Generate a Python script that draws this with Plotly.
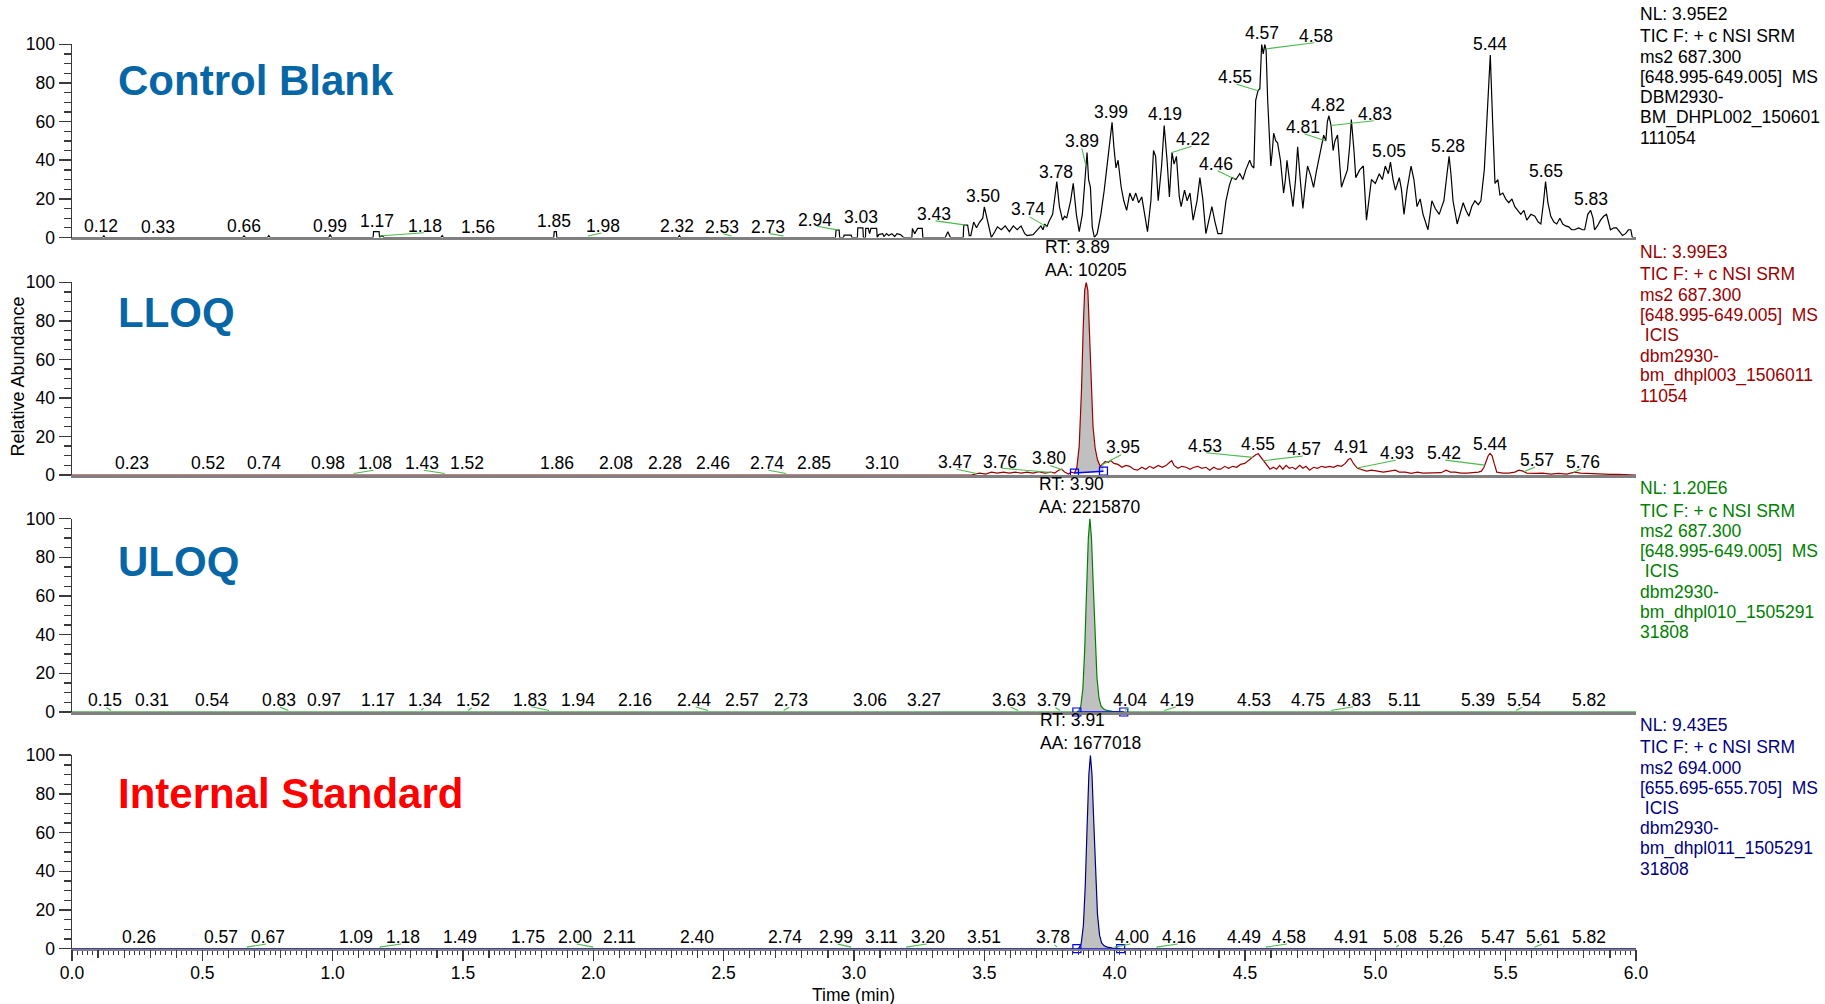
import numpy as np
import plotly.graph_objects as go

# ---------------------------------------------------------------- data
# chromatogram traces: (time [min], relative abundance [%])
BLANK_TRACE = [
    (0.000, 0), (0.118, 0), (0.122, 1), (0.126, 0), (0.655, 0), (0.660, 0.8), (0.665, 0),
    (0.750, 0), (0.755, 1), (0.760, 0), (0.985, 0), (0.990, 1.5), (0.996, 0), (1.155, 0),
    (1.157, 3), (1.178, 3), (1.180, 0), (1.190, 1), (1.196, 0), (1.415, 0), (1.420, 1),
    (1.425, 0), (1.848, 0), (1.850, 3), (1.858, 3), (1.860, 0), (2.325, 0), (2.330, 1),
    (2.335, 0), (2.929, 0), (2.931, 3.8), (2.943, 3.8), (2.945, 0), (2.960, 0), (2.962, 1.2),
    (2.989, 1.2), (2.992, 0), (3.013, 0), (3.0145, 5), (3.034, 5), (3.036, 0), (3.044, 0),
    (3.045, 4.7), (3.055, 4.7), (3.060, 2), (3.065, 4.7), (3.087, 4.7), (3.089, 0), (3.095, 1.5),
    (3.110, 2), (3.115, 0.5), (3.125, 2), (3.133, 1), (3.145, 2), (3.156, 0.5), (3.165, 2),
    (3.178, 1.5), (3.190, 0), (3.222, 0), (3.224, 4.7), (3.233, 2), (3.244, 4.7), (3.262, 4.7),
    (3.264, 0), (3.350, 0), (3.360, 3), (3.370, 0), (3.419, 0), (3.421, 6.4), (3.436, 6.4),
    (3.442, 1), (3.448, 1), (3.459, 8), (3.470, 5), (3.482, 8), (3.494, 10), (3.500, 15.9),
    (3.509, 10), (3.518, 6), (3.527, 0), (3.540, 3), (3.550, 5.5), (3.565, 4), (3.580, 6),
    (3.596, 3), (3.611, 6), (3.626, 4), (3.641, 6), (3.655, 2), (3.664, 1), (3.687, 1.5),
    (3.702, 4), (3.717, 6), (3.725, 4), (3.732, 7), (3.740, 5.5), (3.747, 8), (3.762, 12),
    (3.778, 29), (3.788, 16), (3.800, 9), (3.808, 11), (3.816, 10), (3.831, 19), (3.841, 28),
    (3.853, 12), (3.864, 3), (3.876, 12), (3.885, 28), (3.894, 44), (3.900, 30), (3.907, 26),
    (3.914, 5.5), (3.922, 0), (3.933, 2), (3.947, 12), (3.960, 24.5), (3.972, 40), (3.982, 50),
    (3.990, 59.6), (3.997, 47), (4.005, 36), (4.013, 40), (4.025, 26), (4.035, 19), (4.046, 14),
    (4.058, 23), (4.070, 19), (4.081, 23), (4.092, 18), (4.104, 21), (4.116, 11), (4.126, 3),
    (4.139, 19), (4.149, 45), (4.157, 42), (4.167, 19), (4.180, 37), (4.190, 58), (4.201, 40),
    (4.210, 21), (4.220, 44), (4.228, 38), (4.237, 42), (4.248, 21), (4.255, 16), (4.268, 24.5),
    (4.278, 19), (4.289, 23), (4.301, 9), (4.316, 19), (4.327, 31), (4.338, 20), (4.350, 2),
    (4.362, 10), (4.373, 16), (4.385, 8), (4.396, 2), (4.411, 2), (4.427, 19), (4.440, 27),
    (4.450, 31), (4.465, 30), (4.480, 33), (4.492, 30), (4.503, 35), (4.518, 40), (4.526, 37),
    (4.534, 36), (4.541, 71), (4.550, 76), (4.557, 77), (4.564, 100), (4.570, 95), (4.576, 100),
    (4.581, 97), (4.587, 71), (4.593, 50), (4.599, 37), (4.605, 45), (4.610, 54), (4.618, 50),
    (4.625, 49), (4.636, 40), (4.648, 23), (4.655, 30), (4.661, 40), (4.672, 28), (4.684, 16),
    (4.694, 30), (4.702, 47), (4.712, 30), (4.722, 15), (4.732, 28), (4.740, 37), (4.752, 32),
    (4.763, 26), (4.775, 35), (4.786, 42), (4.795, 48), (4.802, 53), (4.810, 50), (4.816, 60),
    (4.822, 63), (4.830, 58), (4.838, 45), (4.845, 50), (4.855, 53), (4.862, 40), (4.870, 26),
    (4.880, 30), (4.893, 35), (4.902, 48), (4.908, 61), (4.918, 45), (4.925, 31), (4.940, 35),
    (4.954, 37), (4.966, 9), (4.975, 20), (4.985, 30), (5.000, 28), (5.015, 33), (5.027, 30),
    (5.038, 37), (5.050, 33), (5.058, 39), (5.068, 30), (5.077, 24.5), (5.092, 31), (5.100, 25),
    (5.110, 12), (5.122, 25), (5.137, 37), (5.148, 30), (5.160, 16), (5.172, 20), (5.183, 12),
    (5.202, 4), (5.210, 12), (5.217, 19), (5.230, 15), (5.245, 12), (5.255, 16), (5.263, 19),
    (5.275, 33), (5.283, 42), (5.290, 33), (5.298, 19), (5.314, 7), (5.325, 12), (5.337, 18),
    (5.348, 14), (5.359, 11), (5.370, 16), (5.382, 19), (5.395, 17), (5.405, 19), (5.418, 35),
    (5.430, 65), (5.441, 94.5), (5.450, 60), (5.459, 28), (5.470, 30), (5.478, 22), (5.489, 23),
    (5.500, 20), (5.512, 18), (5.524, 20), (5.535, 16), (5.546, 14), (5.558, 12), (5.570, 14),
    (5.581, 9), (5.597, 12), (5.612, 11), (5.625, 8), (5.635, 7), (5.645, 18), (5.653, 29),
    (5.662, 18), (5.673, 11), (5.685, 8), (5.696, 7), (5.708, 10), (5.719, 7), (5.730, 6),
    (5.742, 5.5), (5.753, 4), (5.764, 4), (5.780, 5), (5.795, 4), (5.803, 4), (5.815, 12),
    (5.826, 14), (5.835, 10), (5.841, 4), (5.852, 6), (5.864, 9), (5.876, 11), (5.887, 12),
    (5.895, 7), (5.902, 4), (5.915, 5), (5.925, 5), (5.937, 3), (5.948, 1), (5.960, 2),
    (5.971, 4), (5.980, 4), (5.986, 0), (6.000, 0),
]

LLOQ_TRACE = [
    (0.000, 0), (3.450, 0), (3.467, 0.5), (3.482, 1), (3.505, 0.5), (3.527, 1.5), (3.550, 1),
    (3.573, 1.5), (3.596, 1), (3.618, 1.5), (3.641, 1), (3.664, 1.5), (3.687, 1), (3.709, 1.7),
    (3.732, 1), (3.755, 1.5), (3.770, 1), (3.785, 2.5), (3.797, 3), (3.808, 1.5), (3.823, 0.5),
    (3.834, 1.5), (3.8458, 1), (3.855, 4), (3.864, 15), (3.873, 45), (3.879, 75), (3.885, 96),
    (3.891, 100), (3.897, 96), (3.903, 75), (3.910, 50), (3.917, 25), (3.925, 14), (3.934, 8),
    (3.944, 4.5), (3.957, 6), (3.964, 7), (3.975, 6.5), (3.985, 7.5), (3.997, 6), (4.013, 5.5),
    (4.028, 4), (4.043, 5), (4.058, 4.5), (4.073, 3), (4.088, 2.5), (4.104, 4), (4.119, 3),
    (4.134, 4.5), (4.149, 3.5), (4.167, 5), (4.183, 4), (4.198, 5), (4.210, 6.5), (4.219, 7.4),
    (4.228, 5), (4.243, 3.5), (4.258, 4.5), (4.274, 4), (4.289, 3), (4.304, 4), (4.319, 4.5),
    (4.334, 3.5), (4.350, 4), (4.365, 2.5), (4.380, 4), (4.395, 3), (4.407, 3), (4.422, 4.5),
    (4.437, 3.5), (4.453, 4.5), (4.468, 4), (4.483, 5.5), (4.499, 6), (4.514, 7.5), (4.529, 9),
    (4.541, 10.5), (4.551, 11), (4.560, 9.5), (4.572, 7), (4.584, 5), (4.596, 3), (4.609, 4),
    (4.621, 3), (4.633, 5), (4.645, 3), (4.658, 5), (4.670, 3.5), (4.682, 4), (4.694, 3),
    (4.710, 5), (4.722, 3.5), (4.734, 4.5), (4.748, 2.5), (4.763, 4), (4.778, 3.5), (4.794, 4.5),
    (4.809, 4), (4.824, 4.5), (4.840, 4), (4.855, 5), (4.870, 4.5), (4.885, 6), (4.896, 8),
    (4.905, 8.6), (4.916, 6), (4.931, 3.5), (4.947, 3), (4.967, 2), (4.985, 2.5), (5.008, 2),
    (5.031, 1.5), (5.054, 2), (5.077, 2.5), (5.092, 1.5), (5.115, 1.5), (5.138, 0.8), (5.161, 1.5),
    (5.184, 1), (5.207, 1), (5.229, 1), (5.252, 1.2), (5.272, 2.5), (5.288, 1.5), (5.306, 1.5),
    (5.329, 1), (5.352, 1), (5.375, 1.2), (5.395, 1.5), (5.407, 2), (5.417, 4), (5.425, 7),
    (5.433, 10), (5.440, 11.2), (5.448, 10), (5.456, 6), (5.466, 1.5), (5.489, 1), (5.512, 1),
    (5.535, 1.5), (5.551, 2.5), (5.566, 2), (5.581, 1), (5.612, 0.8), (5.642, 1), (5.673, 0.5),
    (5.703, 0.8), (5.734, 0.5), (5.765, 1.5), (5.787, 1), (5.810, 0.8), (5.841, 0.5), (5.872, 0.5),
    (5.902, 0.3), (5.933, 0.3), (5.963, 0.2), (6.000, 0),
]

ULOQ_TRACE = [
    (0.000, 0), (3.855, 0), (3.862, 0.5), (3.870, 3), (3.878, 12), (3.885, 32), (3.892, 62),
    (3.899, 90), (3.905, 100), (3.911, 90), (3.918, 65), (3.925, 38), (3.932, 18), (3.940, 7),
    (3.948, 3), (3.958, 1.5), (3.970, 0.8), (3.990, 0.3), (4.010, 0.1), (4.035, 0), (6.000, 0),
]

IS_TRACE = [
    (0.000, 0), (3.855, 0), (3.864, 0.5), (3.872, 3), (3.880, 12), (3.887, 32), (3.894, 62),
    (3.901, 90), (3.907, 100), (3.913, 90), (3.920, 65), (3.927, 38), (3.934, 18), (3.942, 7),
    (3.950, 3), (3.960, 1.5), (3.972, 0.8), (3.992, 0.3), (4.023, 0), (6.000, 0),
]

# peak labels: text, label centre time, label centre height (%)
BLANK_LBL_TEXT = ["0.12", "0.33", "0.66", "0.99", "1.17", "1.18", "1.56", "1.85", "1.98", "2.32",
                  "2.53", "2.73", "2.94", "3.03", "3.43", "3.50", "3.74", "3.78", "3.89", "3.99",
                  "4.19", "4.22", "4.46", "4.55", "4.57", "4.58", "4.81", "4.82", "4.83", "5.05",
                  "5.28", "5.44", "5.65", "5.83"]
BLANK_LBL_X = [0.111, 0.328, 0.661, 0.990, 1.169, 1.355, 1.559, 1.851, 2.037, 2.321,
               2.493, 2.670, 2.852, 3.027, 3.307, 3.494, 3.668, 3.774, 3.873, 3.987,
               4.192, 4.301, 4.389, 4.462, 4.564, 4.771, 4.722, 4.820, 5.000, 5.053,
               5.278, 5.441, 5.653, 5.829]
BLANK_LBL_Y = [5.9, 5.5, 5.9, 6.2, 8.6, 5.9, 5.5, 8.6, 5.9, 5.9,
               5.5, 5.5, 9.3, 10.7, 12.1, 21.4, 14.5, 34.0, 50.1, 65.1,
               63.7, 50.8, 38.3, 82.9, 105.7, 104.3, 57.3, 68.6, 63.9, 44.9,
               47.5, 100.0, 34.5, 19.7]

LLOQ_LBL_TEXT = ["0.23", "0.52", "0.74", "0.98", "1.08", "1.43", "1.52", "1.86", "2.08", "2.28",
                 "2.46", "2.74", "2.85", "3.10", "3.47", "3.76", "3.80", "3.95", "4.53", "4.55",
                 "4.57", "4.91", "4.93", "5.42", "5.44", "5.57", "5.76"]
LLOQ_LBL_X = [0.229, 0.520, 0.737, 0.983, 1.162, 1.344, 1.517, 1.860, 2.086, 2.276,
              2.458, 2.666, 2.845, 3.106, 3.388, 3.561, 3.747, 4.031, 4.345, 4.549,
              4.728, 4.905, 5.084, 5.263, 5.441, 5.619, 5.795]
LLOQ_LBL_Y = [6.0, 6.0, 6.0, 6.0, 6.0, 6.0, 6.0, 6.0, 6.0, 6.0,
              6.0, 6.0, 6.0, 6.0, 6.5, 6.9, 8.6, 14.3, 15.0, 16.0,
              13.3, 14.3, 11.2, 11.2, 16.0, 7.8, 6.9]

ULOQ_LBL_TEXT = ["0.15", "0.31", "0.54", "0.83", "0.97", "1.17", "1.34", "1.52", "1.83", "1.94",
                 "2.16", "2.44", "2.57", "2.73", "3.06", "3.27", "3.63", "3.79", "4.04", "4.19",
                 "4.53", "4.75", "4.83", "5.11", "5.39", "5.54", "5.82"]
ULOQ_LBL_X = [0.126, 0.308, 0.538, 0.793, 0.968, 1.172, 1.354, 1.539, 1.757, 1.941,
              2.159, 2.387, 2.572, 2.757, 3.062, 3.270, 3.596, 3.767, 4.058, 4.240,
              4.534, 4.743, 4.920, 5.110, 5.393, 5.569, 5.821]
ULOQ_LBL_Y = [6.2] * 27

IS_LBL_TEXT = ["0.26", "0.57", "0.67", "1.09", "1.18", "1.49", "1.75", "2.00", "2.11", "2.40",
               "2.74", "2.99", "3.11", "3.20", "3.51", "3.78", "4.00", "4.16", "4.49", "4.58",
               "4.91", "5.08", "5.26", "5.47", "5.61", "5.82"]
IS_LBL_X = [0.258, 0.570, 0.751, 1.089, 1.268, 1.488, 1.749, 1.931, 2.101, 2.397,
            2.736, 2.932, 3.106, 3.285, 3.500, 3.763, 4.066, 4.248, 4.496, 4.667,
            4.908, 5.096, 5.272, 5.471, 5.645, 5.821]
IS_LBL_Y = [5.9] * 26

# integrated peak: start/end time and baseline heights (None = no integration)
INT_START = [None, 3.8458, 3.855, 3.855]
INT_END = [None, 3.957, 4.035, 4.023]
INT_BASE0 = [None, 1.0, 0.0, 0.0]
INT_BASE1 = [None, 2.0, 0.0, 0.0]
PEAK_INFO = [None, "RT: 3.89<br>AA: 10205", "RT: 3.90<br>AA: 2215870", "RT: 3.91<br>AA: 1677018"]

PANEL_TITLES = ["Control Blank", "LLOQ", "ULOQ", "Internal Standard"]

INFO_BLANK = ["NL: 3.95E2", "TIC F: + c NSI SRM", "ms2 687.300", "[648.995-649.005]\u00a0 MS",
              "DBM2930-", "BM_DHPL002_150601", "111054"]
INFO_LLOQ = ["NL: 3.99E3", "TIC F: + c NSI SRM", "ms2 687.300", "[648.995-649.005]\u00a0 MS",
             "\u00a0ICIS", "dbm2930-", "bm_dhpl003_1506011", "11054"]
INFO_ULOQ = ["NL: 1.20E6", "TIC F: + c NSI SRM", "ms2 687.300", "[648.995-649.005]\u00a0 MS",
             "\u00a0ICIS", "dbm2930-", "bm_dhpl010_1505291", "31808"]
INFO_IS = ["NL: 9.43E5", "TIC F: + c NSI SRM", "ms2 694.000", "[655.695-655.705]\u00a0 MS",
           "\u00a0ICIS", "dbm2930-", "bm_dhpl011_1505291", "31808"]

Y_TICKS = [0, 20, 40, 60, 80, 100]

# ---------------------------------------------------------------- layout / style
W, H = 1825, 1004
X0_PX, X1_PX = 72, 1636
PANEL_TOP = [44.3, 282.3, 518.6, 755.2]
PANEL_BOT = [237.5, 475.0, 712.0, 948.7]
TITLE_POS = [(116, 80), (116, 313), (116, 561), (116, 793)]
FONT = "Liberation Sans, Arial, Helvetica, sans-serif"
FS = 17.5
TRACE_COLORS = ["#000000", "#990000", "#008000", "#000080"]
TITLE_COLORS = ["#0767a6", "#0767a6", "#0767a6", "#ff0000"]
AXIS_COLOR = "#3a3a3a"
BASE_COLOR = "#808080"
LEADER_COLOR = "#4cbb4c"
FILL_COLOR = "#c0c0c0"

traces = [BLANK_TRACE, LLOQ_TRACE, ULOQ_TRACE, IS_TRACE]
lbl_text = [BLANK_LBL_TEXT, LLOQ_LBL_TEXT, ULOQ_LBL_TEXT, IS_LBL_TEXT]
lbl_x = [BLANK_LBL_X, LLOQ_LBL_X, ULOQ_LBL_X, IS_LBL_X]
lbl_y = [BLANK_LBL_Y, LLOQ_LBL_Y, ULOQ_LBL_Y, IS_LBL_Y]
infos = [INFO_BLANK, INFO_LLOQ, INFO_ULOQ, INFO_IS]

fig = go.Figure()
annotations = []
layout_axes = {}

for k in range(4):
    n = k + 1
    xs = "x" if n == 1 else f"x{n}"
    ys = "y" if n == 1 else f"y{n}"
    T = np.array([p[0] for p in traces[k]])
    V = np.array([p[1] for p in traces[k]])
    px_per_unit = (PANEL_BOT[k] - PANEL_TOP[k]) / 100.0

    # integrated area
    if INT_START[k] is not None:
        m = (T >= INT_START[k]) & (T <= INT_END[k])
        px_ = list(T[m]) + [INT_END[k], INT_START[k]]
        py_ = list(V[m]) + [INT_BASE1[k], INT_BASE0[k]]
        fig.add_trace(go.Scatter(x=px_, y=py_, mode="lines", fill="toself",
                                 fillcolor=FILL_COLOR, line=dict(width=0),
                                 xaxis=xs, yaxis=ys, hoverinfo="skip"))

    # chromatogram
    fig.add_trace(go.Scatter(x=T, y=V, mode="lines",
                             line=dict(color=TRACE_COLORS[k], width=1.2),
                             xaxis=xs, yaxis=ys, hoverinfo="skip"))

    # integration baseline with markers
    if INT_START[k] is not None:
        fig.add_trace(go.Scatter(x=[INT_START[k], INT_END[k]], y=[INT_BASE0[k], INT_BASE1[k]],
                                 mode="lines+markers",
                                 line=dict(color="#0000ff", width=1.5),
                                 marker=dict(symbol="square-open", size=8,
                                             color="#0000ff", line=dict(width=1.2)),
                                 xaxis=xs, yaxis=ys, hoverinfo="skip", cliponaxis=False))
        ip = int(np.argmax(V))
        annotations.append(dict(x=T[ip], y=100, xref=xs, yref=ys, text=PEAK_INFO[k],
                                showarrow=False, xanchor="center", yanchor="bottom",
                                align="left", font=dict(family=FONT, size=FS, color="#000000")))

    # peak labels + leader lines (arrow-less annotation lines, not clipped at the panel top)
    half_h = 6.5 / px_per_unit
    for txt, lx, ly in zip(lbl_text[k], lbl_x[k], lbl_y[k]):
        yy = min(ly, 100.0)
        annotations.append(dict(x=lx, y=yy, yshift=(ly - yy) * px_per_unit,
                                xref=xs, yref=ys, text=txt, showarrow=False,
                                xanchor="center", yanchor="middle",
                                font=dict(family=FONT, size=FS, color="#000000")))
        val = float(txt)
        if abs(lx - val) > 0.012:
            py = max(float(np.interp(val, T, V)), 0.8)
            ay = ly - half_h
            annotations.append(dict(x=val, y=py, xref=xs, yref=ys,
                                    ax=(lx - val) * (X1_PX - X0_PX) / 6.0,
                                    ay=-(ay - py) * px_per_unit,
                                    axref="pixel", ayref="pixel",
                                    text="", showarrow=True, arrowhead=0, standoff=0,
                                    startstandoff=0, arrowwidth=1.1,
                                    arrowcolor=LEADER_COLOR))

    # panel title
    tx, ty = TITLE_POS[k]
    annotations.append(dict(x=tx / W, y=1 - ty / H, xref="paper", yref="paper",
                            text=f"<b>{PANEL_TITLES[k]}</b>", showarrow=False,
                            xanchor="left", yanchor="middle",
                            font=dict(family=FONT, size=42, color=TITLE_COLORS[k])))

    # info block at right
    y_line = PANEL_TOP[k] - 30.5
    for i, line in enumerate(infos[k]):
        if i == 1:
            y_line += 22.5
        elif i > 1:
            y_line += 20.3
        annotations.append(dict(x=(X1_PX + 2) / W, y=1 - y_line / H, xref="paper", yref="paper",
                                text=line, showarrow=False, xanchor="left", yanchor="middle",
                                font=dict(family=FONT, size=FS, color=TRACE_COLORS[k])))

    # axes
    xa = dict(domain=[X0_PX / W, X1_PX / W], range=[0, 6], anchor=ys, automargin=False,
              showgrid=False, zeroline=False, showline=True, linecolor=BASE_COLOR,
              linewidth=2.5, fixedrange=True)
    if n < 4:
        xa.update(ticks="", showticklabels=False)
    else:
        xa.update(ticks="outside", dtick=0.5, tick0=0, ticklen=6.5, tickwidth=1.3,
                  tickcolor=AXIS_COLOR, tickformat=".1f",
                  tickfont=dict(family=FONT, size=FS, color="#000000"),
                  minor=dict(dtick=0.02, tick0=0, ticklen=4, tickwidth=1,
                             tickcolor=AXIS_COLOR, ticks="outside"))
    ya = dict(domain=[1 - PANEL_BOT[k] / H, 1 - PANEL_TOP[k] / H], range=[0, 100],
              anchor=xs, automargin=False, showgrid=False, zeroline=False, showline=True,
              linecolor=AXIS_COLOR, linewidth=1.5, ticks="outside", ticklen=12,
              tickwidth=1.5, tickcolor=AXIS_COLOR, tickmode="array", tickvals=Y_TICKS,
              tickfont=dict(family=FONT, size=FS, color="#000000"), fixedrange=True,
              minor=dict(dtick=5, tick0=0, ticklen=7, tickwidth=1.3,
                         tickcolor=AXIS_COLOR, ticks="outside"))
    layout_axes["xaxis" if n == 1 else f"xaxis{n}"] = xa
    layout_axes["yaxis" if n == 1 else f"yaxis{n}"] = ya

# longer 0.5 / 0.1-min ticks on the bottom time axis (overlay, no labels)
layout_axes["xaxis5"] = dict(overlaying="x4", anchor="y4", range=[0, 6], showgrid=False,
                             automargin=False, zeroline=False, showline=False,
                             ticks="outside", dtick=0.5, tick0=0, ticklen=11, tickwidth=1.3,
                             tickcolor=AXIS_COLOR, showticklabels=False, fixedrange=True,
                             minor=dict(dtick=0.1, tick0=0, ticklen=8, tickwidth=1.2,
                                        tickcolor=AXIS_COLOR, ticks="outside"))
fig.add_trace(go.Scatter(x=[None], y=[None], xaxis="x5", yaxis="y4", hoverinfo="skip"))

annotations.append(dict(x=17.8 / W, y=1 - 376.7 / H, xref="paper", yref="paper",
                        text="Relative Abundance", textangle=-90, showarrow=False,
                        xanchor="center", yanchor="middle",
                        font=dict(family=FONT, size=18, color="#000000")))
annotations.append(dict(x=853 / W, y=1 - 995 / H, xref="paper", yref="paper",
                        text="Time (min)", showarrow=False, xanchor="center", yanchor="middle",
                        font=dict(family=FONT, size=FS, color="#000000")))

fig.update_layout(width=W, height=H, autosize=False, showlegend=False, hovermode=False,
                  margin=dict(l=0, r=0, t=0, b=0, autoexpand=False),
                  paper_bgcolor="#ffffff", plot_bgcolor="#ffffff",
                  annotations=annotations, **layout_axes)

fig.write_html("out.html",
               config={"displayModeBar": False, "staticPlot": True},
               post_script="document.body.style.margin='0px';"
                           "document.body.style.overflow='hidden';")
